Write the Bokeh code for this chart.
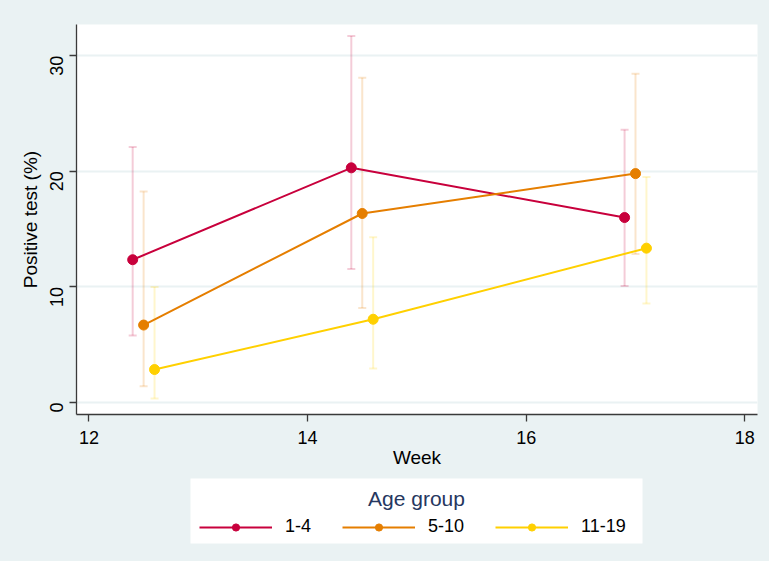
import math
from bokeh.plotting import figure
from bokeh.layouts import column
from bokeh.models import (ColumnDataSource, Whisker, TeeHead, Legend, LegendItem,
                          FixedTicker, Range1d, BoxAnnotation, Label)
from bokeh.embed import file_html
from bokeh.resources import INLINE

# ---- data ----
groups = ["1-4", "5-10", "11-19"]
legend_title = "Age group"
colors = ["#C8003C", "#E57E00", "#FFD000"]

week_1_4 = [12.4, 14.4, 16.9]
pos_1_4 = [12.35, 20.3, 16.0]
lo_1_4 = [5.8, 11.55, 10.07]
hi_1_4 = [22.1, 31.7, 23.6]

week_5_10 = [12.5, 14.5, 17.0]
pos_5_10 = [6.7, 16.35, 19.8]
lo_5_10 = [1.4, 8.17, 12.85]
hi_5_10 = [18.25, 28.1, 28.45]

week_11_19 = [12.6, 14.6, 17.1]
pos_11_19 = [2.85, 7.2, 13.35]
lo_11_19 = [0.35, 2.95, 8.57]
hi_11_19 = [9.98, 14.3, 19.5]

x_ticks = [12, 14, 16, 18]
y_ticks = [0, 10, 20, 30]

series = [
    (week_1_4, pos_1_4, lo_1_4, hi_1_4),
    (week_5_10, pos_5_10, lo_5_10, hi_5_10),
    (week_11_19, pos_11_19, lo_11_19, hi_11_19),
]

BG = "#EAF2F3"
FONT = "Liberation Sans"
W = 769

# ---------------- main plot ----------------
p = figure(width=W, height=476, output_backend="svg", toolbar_location=None,
           x_range=Range1d(11.886, 18.116), y_range=Range1d(-1.04, 32.7),
           min_border_left=76, min_border_right=12, min_border_top=24,
           min_border_bottom=62)
p.background_fill_color = "white"
p.border_fill_color = BG
p.outline_line_color = None

p.xgrid.visible = False
p.ygrid.grid_line_color = BG
p.ygrid.grid_line_width = 2

for ax in (p.xaxis[0], p.yaxis[0]):
    ax.axis_line_color = "#3a3a3a"
    ax.axis_line_width = 1.3
    ax.major_tick_line_color = "#3a3a3a"
    ax.major_tick_line_width = 1.3
    ax.major_tick_out = 7
    ax.major_tick_in = 0
    ax.minor_tick_out = 0
    ax.minor_tick_in = 0
    ax.major_label_text_font = FONT
    ax.major_label_text_font_size = "18px"
    ax.major_label_text_color = "black"
    ax.axis_label_text_font = FONT
    ax.axis_label_text_font_size = "19px"
    ax.axis_label_text_font_style = "normal"
    ax.axis_label_text_color = "black"

p.xaxis.ticker = FixedTicker(ticks=x_ticks)
p.yaxis.ticker = FixedTicker(ticks=y_ticks)
p.xaxis.axis_label = "Week"
p.yaxis.axis_label = "Positive test (%)"
p.yaxis.major_label_orientation = math.pi / 2
p.yaxis.major_label_standoff = 13
p.yaxis.axis_label_standoff = 0
p.xaxis.major_label_standoff = 9
p.xaxis.axis_label_standoff = 0

for (wk, pos, lo, hi), col in zip(series, colors):
    src = ColumnDataSource(dict(x=wk, y=pos, lower=lo, upper=hi))
    w = Whisker(base="x", upper="upper", lower="lower", source=src,
                line_color=col, line_alpha=0.2, line_width=2,
                upper_head=TeeHead(size=8, line_color=col, line_alpha=0.2, line_width=2),
                lower_head=TeeHead(size=8, line_color=col, line_alpha=0.2, line_width=2))
    p.add_layout(w)

for (wk, pos, lo, hi), col in zip(series, colors):
    src = ColumnDataSource(dict(x=wk, y=pos))
    p.line("x", "y", source=src, line_color=col, line_width=2)
    p.scatter("x", "y", source=src, size=10, fill_color=col, line_color=col)

# ---------------- legend strip ----------------
q = figure(width=W, height=85, output_backend="svg", toolbar_location=None,
           x_range=Range1d(0, 1), y_range=Range1d(0, 1),
           x_axis_type=None, y_axis_type=None,
           min_border_left=0, min_border_right=0, min_border_top=0,
           min_border_bottom=0)
q.background_fill_color = None
q.border_fill_color = BG
q.outline_line_color = None

# frame of q is aligned with the main plot frame (starts 76px from the left)
box = BoxAnnotation(left=114, right=566, bottom=18, top=83,
                    left_units="screen", right_units="screen",
                    bottom_units="screen", top_units="screen",
                    fill_color="white", fill_alpha=1.0, line_color=None,
                    level="underlay")
q.add_layout(box)

items = []
for (wk, pos, lo, hi), col, name in zip(series, colors, groups):
    src = ColumnDataSource(dict(x=wk, y=pos))
    l = q.line("x", "y", source=src, line_color=col, line_width=2, visible=False)
    s = q.scatter("x", "y", source=src, size=9, fill_color=col, line_color=col,
                  visible=False)
    items.append(LegendItem(label=name, renderers=[l, s]))

legend = Legend(items=items, orientation="horizontal", location=(123, 24),
                label_text_font=FONT, label_text_font_size="18px",
                label_text_color="black",
                glyph_width=73, glyph_height=18, label_height=18,
                label_standoff=13, spacing=31, padding=9, margin=0,
                border_line_color=None, background_fill_alpha=0.0,
                click_policy="none")
q.add_layout(legend, "center")

title = Label(x=340, y=63, x_units="screen", y_units="screen", text=legend_title,
              text_align="center", text_baseline="alphabetic",
              text_font=FONT, text_font_size="21px", text_color="#26375F")
q.add_layout(title)

layout = column(p, q, spacing=0, styles={"background-color": BG})
open("out.html", "w").write(file_html(layout, INLINE))
